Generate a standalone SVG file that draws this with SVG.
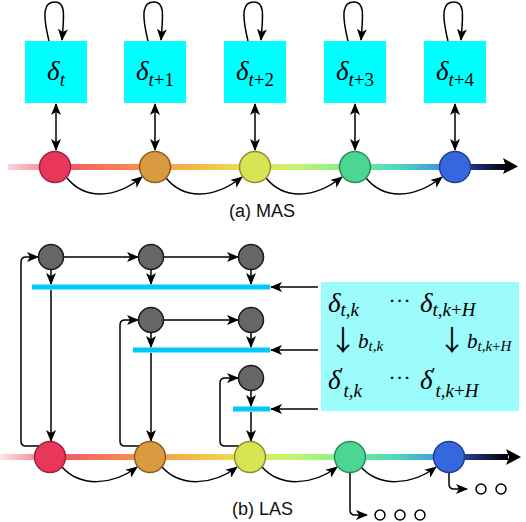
<svg xmlns="http://www.w3.org/2000/svg" width="526" height="522" viewBox="0 0 526 522">
<defs>
<marker id="arr" viewBox="0 0 12 10" refX="11" refY="5" markerWidth="12" markerHeight="10" markerUnits="userSpaceOnUse" orient="auto-start-reverse">
<path d="M0,0 L12,5 L0,10 L3,5 z" fill="#000"/>
</marker>
<linearGradient id="tlA" gradientUnits="userSpaceOnUse" x1="8" y1="0" x2="508" y2="0">
<stop offset="0" stop-color="#fbd3da"/>
<stop offset="0.07" stop-color="#f5909f"/>
<stop offset="0.12" stop-color="#f25a66"/>
<stop offset="0.25" stop-color="#f88a50"/>
<stop offset="0.37" stop-color="#f0b848"/>
<stop offset="0.47" stop-color="#ece050"/>
<stop offset="0.58" stop-color="#c4f470"/>
<stop offset="0.67" stop-color="#84f08c"/>
<stop offset="0.78" stop-color="#4cd8bc"/>
<stop offset="0.86" stop-color="#4698e0"/>
<stop offset="0.93" stop-color="#22307e"/>
<stop offset="1" stop-color="#000"/>
</linearGradient>
<linearGradient id="tlB" gradientUnits="userSpaceOnUse" x1="0" y1="0" x2="508" y2="0">
<stop offset="0" stop-color="#fde4e8"/>
<stop offset="0.07" stop-color="#f5909f"/>
<stop offset="0.12" stop-color="#f25a66"/>
<stop offset="0.25" stop-color="#f88a50"/>
<stop offset="0.37" stop-color="#f0b848"/>
<stop offset="0.47" stop-color="#ece050"/>
<stop offset="0.58" stop-color="#c4f470"/>
<stop offset="0.67" stop-color="#84f08c"/>
<stop offset="0.78" stop-color="#4cd8bc"/>
<stop offset="0.86" stop-color="#4698e0"/>
<stop offset="0.93" stop-color="#22307e"/>
<stop offset="1" stop-color="#000"/>
</linearGradient>
</defs>
<style>
.box{fill:#00ffff}
.m{font-family:"Liberation Serif","DejaVu Serif",serif;font-style:italic;fill:#000}
.big{font-size:27px}
.sub{font-size:19px}
.up{font-style:normal}
.arrw{font-family:"Noto Sans CJK SC","DejaVu Sans",sans-serif;font-size:28px;fill:#000}
.cap{font-family:"Liberation Sans","DejaVu Sans",sans-serif;font-size:18px;fill:#111}
.c{stroke:#000;stroke-width:1.5;fill:none}
.ca{stroke:#000;stroke-width:1.5;fill:none;marker-end:url(#arr)}
.cd{stroke:#000;stroke-width:1.5;fill:none;marker-end:url(#arr);marker-start:url(#arr)}
.g{fill:#666;stroke:#1a1a1a;stroke-width:1.5}
.bar{fill:#00c8f8}
.o{fill:#fff;stroke:#000;stroke-width:1.5}
</style>

<!-- (a) timeline -->
<g id="timelineA">
<rect x="8" y="164" width="498" height="6" fill="url(#tlA)"/>
<polygon points="503,158 518,166.5 503,174 506,166.5" fill="#000"/>
</g>
<!-- (b) timeline -->
<g id="timelineB">
<rect x="0" y="454" width="508" height="6" fill="url(#tlB)"/>
<polygon points="506,449 521,457 506,465 509,457" fill="#000"/>
</g>

<!-- connectors -->
<g id="connectors">
<path class="ca" d="M49,41 C42,12 44,2 55,2 C66,2 64,16 62,40"/>
<path class="ca" d="M148,41 C141,12 143,2 154,2 C165,2 163,16 161,40"/>
<path class="ca" d="M248,41 C241,12 243,2 254,2 C265,2 263,16 261,40"/>
<path class="ca" d="M348,41 C341,12 343,2 354,2 C365,2 363,16 361,40"/>
<path class="ca" d="M448,41 C441,12 443,2 454,2 C465,2 463,16 461,40"/>
<line class="cd" x1="56" y1="104" x2="56" y2="150"/>
<line class="cd" x1="155" y1="104" x2="155" y2="150"/>
<line class="cd" x1="255" y1="104" x2="255" y2="150"/>
<line class="cd" x1="355" y1="104" x2="355" y2="150"/>
<line class="cd" x1="455" y1="104" x2="455" y2="150"/>
<path class="ca" d="M67,178 C85,200 115,199 142,177"/>
<path class="ca" d="M166,178 C184,200 214,199 242,177"/>
<path class="ca" d="M266,178 C284,200 314,199 342,177"/>
<path class="ca" d="M366,178 C384,200 414,199 442,177"/>

<line class="ca" x1="64" y1="257" x2="138" y2="257"/>
<line class="ca" x1="164" y1="257" x2="238" y2="257"/>
<line class="ca" x1="164" y1="320" x2="238" y2="320"/>
<line class="ca" x1="51" y1="270" x2="51" y2="284"/>
<line class="ca" x1="151" y1="270" x2="151" y2="284"/>
<line class="ca" x1="251" y1="270" x2="251" y2="284"/>
<line class="ca" x1="151" y1="333" x2="151" y2="347"/>
<line class="ca" x1="251" y1="333" x2="251" y2="347"/>
<line class="ca" x1="251" y1="391" x2="251" y2="406"/>
<line class="ca" x1="51" y1="290" x2="51" y2="441"/>
<line class="ca" x1="151" y1="353" x2="151" y2="441"/>
<line class="ca" x1="251" y1="412" x2="251" y2="441"/>
<path class="ca" d="M39,446 H26 Q21,446 21,441 V262 Q21,257 26,257 H38"/>
<path class="ca" d="M139,446 H125 Q120,446 120,441 V325 Q120,320 125,320 H138"/>
<path class="ca" d="M239,446 H225 Q220,446 220,441 V383 Q220,378 225,378 H238"/>
<line class="ca" x1="318" y1="287" x2="271" y2="287"/>
<line class="ca" x1="318" y1="350" x2="271" y2="350"/>
<line class="ca" x1="318" y1="409" x2="271" y2="409"/>
<path class="ca" d="M62,467 C80,487 112,486 137,467"/>
<path class="ca" d="M162,467 C180,487 212,486 237,467"/>
<path class="ca" d="M262,467 C280,487 312,486 337,467"/>
<path class="ca" d="M361,467 C379,487 411,486 436,467"/>
<path class="ca" d="M350,473 V510 Q350,515 355,515 H367"/>
<path class="ca" d="M449,473 V484 Q449,489 454,489 H467"/>
</g>

<g id="boxA1"><rect class="box" x="25" y="41" width="62" height="62"/><text class="m big" x="56" y="80" text-anchor="middle">δ<tspan class="sub" dy="6">t</tspan></text></g>
<g id="boxA2"><rect class="box" x="124" y="41" width="62" height="62"/><text class="m big" x="155" y="80" text-anchor="middle">δ<tspan class="sub" dy="6">t</tspan><tspan class="sub up">+1</tspan></text></g>
<g id="boxA3"><rect class="box" x="224" y="41" width="62" height="62"/><text class="m big" x="255" y="80" text-anchor="middle">δ<tspan class="sub" dy="6">t</tspan><tspan class="sub up">+2</tspan></text></g>
<g id="boxA4"><rect class="box" x="324" y="41" width="62" height="62"/><text class="m big" x="355" y="80" text-anchor="middle">δ<tspan class="sub" dy="6">t</tspan><tspan class="sub up">+3</tspan></text></g>
<g id="boxA5"><rect class="box" x="424" y="41" width="62" height="62"/><text class="m big" x="455" y="80" text-anchor="middle">δ<tspan class="sub" dy="6">t</tspan><tspan class="sub up">+4</tspan></text></g>

<g id="sA1"><circle cx="55" cy="167" r="15.5" fill="#e8375a" stroke="#9e2242" stroke-width="1.5"/></g>
<g id="sA2"><circle cx="155" cy="167" r="15.5" fill="#d99a40" stroke="#8a5c22" stroke-width="1.5"/></g>
<g id="sA3"><circle cx="255" cy="167" r="15.5" fill="#d8e454" stroke="#8a9030" stroke-width="1.5"/></g>
<g id="sA4"><circle cx="355" cy="167" r="15.5" fill="#4cd694" stroke="#2e8a5a" stroke-width="1.5"/></g>
<g id="sA5"><circle cx="455" cy="167" r="15.5" fill="#3667de" stroke="#213e92" stroke-width="1.5"/></g>

<text class="cap" x="229" y="217">(a) MAS</text>

<g id="g11"><circle class="g" cx="51" cy="257" r="12.5"/></g>
<g id="g12"><circle class="g" cx="151" cy="257" r="12.5"/></g>
<g id="g13"><circle class="g" cx="251" cy="257" r="12.5"/></g>
<g id="g22"><circle class="g" cx="151" cy="320" r="12.5"/></g>
<g id="g23"><circle class="g" cx="251" cy="320" r="12.5"/></g>
<g id="g33"><circle class="g" cx="251" cy="378" r="12.5"/></g>

<g id="bar1"><rect class="bar" x="32" y="284.5" width="238" height="5"/></g>
<g id="bar2"><rect class="bar" x="133" y="347.5" width="137" height="5"/></g>
<g id="bar3"><rect class="bar" x="233" y="406.5" width="37" height="5"/></g>

<g id="panel">
<rect x="321" y="282" width="198" height="129" fill="#9cfcfc"/>
<text class="m big" x="328" y="312">δ<tspan class="sub" dy="4">t,k</tspan></text>
<text class="m" x="389" y="308" font-size="22" font-style="normal" letter-spacing="2">···</text>
<text class="m big" x="420" y="312">δ<tspan class="sub" dy="4">t,k</tspan><tspan class="sub up">+</tspan><tspan class="sub">H</tspan></text>
<text class="arrw" x="357" y="351" text-anchor="end">↓</text>
<text class="m" x="358" y="348" font-size="21">b<tspan font-size="15" dy="3">t,k</tspan></text>
<text class="arrw" x="466" y="351" text-anchor="end">↓</text>
<text class="m" x="467" y="348" font-size="21">b<tspan font-size="15" dy="3">t,k</tspan><tspan font-size="15" font-style="normal">+</tspan><tspan font-size="15">H</tspan></text>
<text class="m big" x="328" y="389">δ<tspan font-size="18" font-style="normal" dx="-1" dy="-8">′</tspan><tspan class="sub" dy="16">t,k</tspan></text>
<text class="m" x="389" y="385" font-size="22" font-style="normal" letter-spacing="2">···</text>
<text class="m big" x="420" y="389">δ<tspan font-size="18" font-style="normal" dx="-1" dy="-8">′</tspan><tspan class="sub" dy="16">t,k</tspan><tspan class="sub up">+</tspan><tspan class="sub">H</tspan></text>
</g>

<g id="sB1"><circle cx="50" cy="457" r="15.5" fill="#e8375a" stroke="#9e2242" stroke-width="1.5"/></g>
<g id="sB2"><circle cx="150" cy="457" r="15.5" fill="#d99a40" stroke="#8a5c22" stroke-width="1.5"/></g>
<g id="sB3"><circle cx="250" cy="457" r="15.5" fill="#d8e454" stroke="#8a9030" stroke-width="1.5"/></g>
<g id="sB4"><circle cx="350" cy="457" r="15.5" fill="#4cd694" stroke="#2e8a5a" stroke-width="1.5"/></g>
<g id="sB5"><circle cx="449" cy="457" r="15.5" fill="#3667de" stroke="#213e92" stroke-width="1.5"/></g>

<g id="future4"><circle class="o" cx="380" cy="515" r="5"/><circle class="o" cx="400" cy="515" r="5"/><circle class="o" cx="420" cy="515" r="5"/></g>
<g id="future5"><circle class="o" cx="481" cy="489" r="5"/><circle class="o" cx="501" cy="489" r="5"/></g>

<text class="cap" x="232" y="515">(b) LAS</text>
</svg>
